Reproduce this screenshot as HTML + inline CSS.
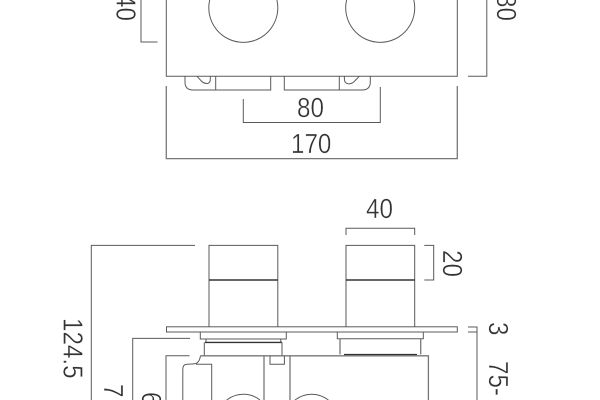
<!DOCTYPE html>
<html>
<head>
<meta charset="utf-8">
<style>
html,body{margin:0;padding:0;background:#fff;width:600px;height:400px;overflow:hidden}
#w{position:relative;width:600px;height:400px;overflow:hidden}
svg{display:block}
text{font-family:"Liberation Sans",sans-serif;font-size:27.5px;fill:#333;stroke:#fff;stroke-width:.35px}
.l{fill:none;stroke:#5a5a5a;stroke-width:1}
.g{fill:none;stroke:#777;stroke-width:1.3}
.d{fill:none;stroke:#333;stroke-width:1.4}
</style>
</head>
<body>
<div id="w">
<svg width="600" height="400" viewBox="0 0 600 400" xmlns="http://www.w3.org/2000/svg">
<!-- top view -->
<path class="l" d="M166.3 0V76.3H457.3V0"/>
<path class="l" d="M209.7 0A34.5 34.5 0 1 0 276.9 0"/>
<path class="l" d="M346.6 0A34.5 34.5 0 1 0 413.8 0"/>
<path class="l" d="M185 76.3V82Q185 90 193 90H215.7V76.3M215.7 90H270.7V76.3"/>
<path class="l" d="M284.3 76.3V90H339.3V76.3M339.3 90H362Q370.3 90 370.3 82V76.3"/>
<path class="l" d="M197 76.3L202 81.7Q205 84 208 83.4Q210.4 82.5 210.3 79V76.3"/>
<path class="l" d="M344.4 76.3V79Q344.4 83 348 83.8Q351 84.2 354 81.7L359.3 76.3"/>
<path class="l" d="M141 0V42H157.5"/>
<path class="l" d="M468 76.3H486.8V0"/>
<path class="l" d="M243.3 99V122.5H380.3V87"/>
<path class="g" d="M166.3 86V158.6H457.3V86"/>
<text transform="translate(116.5,-6) rotate(90) scale(.88,1)">40</text>
<text transform="translate(497,-6) rotate(90) scale(.88,1)">80</text>
<text transform="translate(297,117) scale(.88,1)">80</text>
<text transform="translate(291,153) scale(.88,1)">170</text>

<!-- side view -->
<path class="l" d="M346 235V228.3H414.7V235"/>
<text transform="translate(366,218) scale(.88,1)">40</text>
<path class="l" d="M424.3 245.4H433.7V280H424.3"/>
<text transform="translate(443,250) rotate(90) scale(.88,1)">20</text>

<path class="l" d="M209 326.7V245.4H277.8V326.7"/>
<path class="d" d="M209 280H277.8"/>
<path class="l" d="M346 326.7V245.4H414.7V326.7"/>
<path class="d" d="M346 280H414.7"/>

<rect class="l" x="166.5" y="326.8" width="290.8" height="5.2"/>

<path class="l" d="M200.3 332V339H286.3V332"/>
<path class="l" d="M206 339V342.3M280.8 339V342.3"/>
<path class="d" d="M205 342.4H282"/>
<path class="l" d="M204.3 342.4V355.7M282 342.4V355.7"/>

<path class="l" d="M337.3 332V338.7H423.3V332"/>
<path class="g" d="M340 338.7V354.4M420.7 338.7V354.4"/>
<path class="d" d="M344 354.6H417"/>

<path class="g" d="M200.5 355.8H428.4V400"/>
<path class="g" d="M264 355.8V400M290 355.8V400"/>
<path class="l" d="M270 355.8V364.2H284.4V355.8"/>
<path class="l" d="M200.5 355.8Q199.5 362 196 363.5Q193 364.2 187 364.2Q182.8 364.2 182.8 369V400M196 364.2H211.7V400"/>
<path class="l" d="M226.7 400A27 27 0 0 1 260 400"/>
<path class="l" d="M295 400A27 27 0 0 1 328.4 400"/>

<path class="l" d="M195 245.4H91.3V400"/>
<path class="l" d="M190 338.4H132.7V400"/>
<path class="l" d="M189.5 355.8H166V400"/>
<path class="l" d="M468 327H477V400M468 332H477"/>

<text transform="translate(63.5,318) rotate(90) scale(.88,1)">124.5</text>
<text transform="translate(104,384) rotate(90) scale(.88,1)">7</text>
<text transform="translate(142,392) rotate(90) scale(.88,1)">6</text>
<text transform="translate(489,322) rotate(90) scale(.88,1)">3</text>
<text transform="translate(489,361) rotate(90) scale(.88,1)">75-</text>
</svg>
</div>
</body>
</html>
